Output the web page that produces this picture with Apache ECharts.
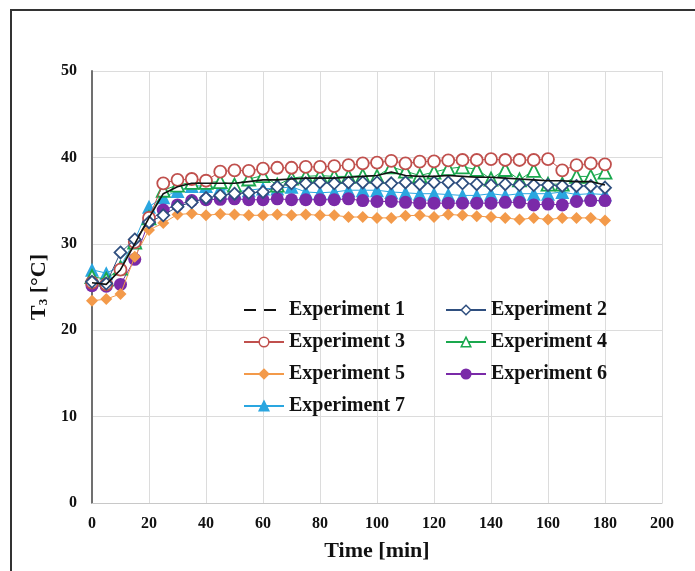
<!DOCTYPE html>
<html>
<head>
<meta charset="utf-8">
<script src="https://cdn.jsdelivr.net/npm/echarts@6/dist/echarts.min.js"></script>
<style>html,body{margin:0;padding:0;background:#fff}#c{width:695px;height:571px}</style>
</head>
<body>
<div id="c"></div>
<script>
var times = [0,5,10,15,20,25,30,35,40,45,50,55,60,65,70,75,80,85,90,95,100,105,110,115,120,125,130,135,140,145,150,155,160,165,170,175,180];
var xTicks = [0,20,40,60,80,100,120,140,160,180,200];
var yTicks = [0,10,20,30,40,50];
var names = ['Experiment 1','Experiment 2','Experiment 3','Experiment 4','Experiment 5','Experiment 6','Experiment 7'];
var exp1 = [25.5,25.3,27.0,30.0,33.0,35.8,36.6,37.0,37.0,37.0,37.0,37.2,37.4,37.4,37.5,37.6,37.6,37.6,37.7,37.8,37.9,38.3,37.9,37.8,37.8,37.9,37.8,37.7,37.7,37.6,37.5,37.4,37.3,37.3,37.2,37.2,36.8];
var exp2 = [25.6,25.4,29.0,30.5,32.5,33.3,34.3,34.8,35.3,35.6,35.8,35.9,36.0,36.6,37.0,37.0,37.1,37.0,37.1,37.1,37.1,37.0,37.1,36.9,37.1,37.1,37.0,36.9,36.8,36.9,36.8,36.8,36.8,36.7,36.7,36.7,36.5];
var exp3 = [25.5,25.3,27.0,30.2,33.0,37.0,37.4,37.5,37.3,38.35,38.5,38.45,38.7,38.8,38.8,38.9,38.9,39.0,39.1,39.3,39.4,39.6,39.3,39.5,39.55,39.65,39.7,39.7,39.8,39.7,39.7,39.7,39.8,38.5,39.1,39.3,39.2];
var exp4 = [26.2,25.9,27.2,30.2,33.0,36.2,36.8,37.1,37.1,37.2,36.8,37.5,37.9,36.8,37.6,37.8,37.9,37.8,37.8,37.9,37.8,38.9,38.4,37.9,38.3,38.7,38.9,38.6,37.5,38.6,37.4,38.5,36.9,36.9,37.8,37.8,38.3];
var exp5 = [23.4,23.6,24.2,28.5,31.6,32.4,33.4,33.5,33.3,33.45,33.4,33.3,33.3,33.4,33.3,33.4,33.3,33.3,33.1,33.1,33.0,33.0,33.25,33.3,33.1,33.4,33.3,33.2,33.1,33.0,32.8,33.0,32.8,33.0,33.0,33.0,32.7];
var exp6 = [25.15,25.1,25.3,28.2,32.6,33.9,34.5,35.0,35.1,35.15,35.2,35.1,35.1,35.2,35.1,35.1,35.1,35.1,35.2,35.0,34.9,34.9,34.8,34.7,34.7,34.7,34.7,34.7,34.7,34.8,34.8,34.5,34.6,34.5,34.9,35.0,35.0];
var exp7 = [27.0,26.6,27.4,30.4,34.3,35.4,36.1,36.7,36.7,36.4,36.0,36.2,36.4,36.4,36.6,36.0,35.9,36.0,36.2,36.2,36.2,36.0,35.9,35.8,35.8,35.7,35.6,35.6,35.8,35.6,35.8,35.8,35.8,36.0,35.7,35.8,35.7];

function pairs(v){ return times.map(function(t,i){ return [t, v[i]]; }); }

var FONT = '"Liberation Serif", "Times New Roman", serif';
var styles = [
  {color:'#111111', symbol:'none', size:0, fill:'#111111'},
  {color:'#2f4f7f', symbol:'diamond', size:12, fill:'#ffffff'},
  {color:'#c0504d', symbol:'circle', size:12, fill:'#ffffff'},
  {color:'#1aa84e', symbol:'triangle', size:13, fill:'#ffffff'},
  {color:'#f39a4a', symbol:'diamond', size:12, fill:'#f39a4a'},
  {color:'#7a2aa8', symbol:'circle', size:13, fill:'#7a2aa8'},
  {color:'#2aa6e0', symbol:'triangle', size:14, fill:'#2aa6e0'}
];
var vals = [exp1,exp2,exp3,exp4,exp5,exp6,exp7];
var series = vals.map(function(v,i){
  var s = styles[i];
  return {
    name: names[i], type:'line', data: pairs(v),
    symbol: s.symbol, symbolSize: s.size, showSymbol: s.symbol !== 'none',
    lineStyle: {color: s.color, width: i===0 ? 1.6 : 1},
    itemStyle: {color: s.fill, borderColor: s.color, borderWidth: (s.fill==='#ffffff') ? 1.8 : 0},
    z: 10 - i, animation:false
  };
});

var legendText = {fontFamily: FONT, fontWeight:'bold', fontSize:20, color:'#111', lineHeight:20};
function legendData(idx){
  return idx.map(function(i){
    var d = {name: names[i]};
    if(i===0){
      d.lineStyle = {type:[12,8], width:2, color:'#111'};
      d.itemStyle = {color:'rgba(0,0,0,0)', borderColor:'rgba(0,0,0,0)', borderWidth:0, opacity:0};
    }
    return d;
  });
}

var chart = echarts.init(document.getElementById('c'), null, {renderer:'canvas'});
chart.setOption({
  backgroundColor:'#ffffff',
  animation:false,
  graphic:[{type:'rect', shape:{x:11,y:10,width:720,height:620}, style:{fill:'none', stroke:'#333', lineWidth:2}, silent:true}],
  grid:{left:92, right:33, top:71, bottom:68},
  legend:[
    {data: legendData([0,2,4,6]), orient:'vertical', left:238, top:295, itemWidth:40, itemHeight:12, itemGap:12, textStyle:legendText, itemStyle:{borderWidth:1.5}},
    {data: legendData([1,3,5]), orient:'vertical', left:440, top:295, itemWidth:40, itemHeight:12, itemGap:12, textStyle:legendText, itemStyle:{borderWidth:1.5}}
  ],
  xAxis:{
    type:'value', min:xTicks[0], max:xTicks[xTicks.length-1], interval:xTicks[1]-xTicks[0],
    name:'Time [min]', nameLocation:'middle', nameGap:37,
    nameTextStyle:{fontFamily:FONT, fontWeight:'bold', fontSize:22, color:'#111'},
    axisLine:{show:true, lineStyle:{color:'#c8c8c8', width:1}},
    axisTick:{show:false},
    axisLabel:{fontFamily:FONT, fontWeight:'bold', fontSize:16, color:'#111', margin:13},
    splitLine:{show:true, lineStyle:{color:'#dcdcdc', width:1}}
  },
  yAxis:{
    type:'value', min:yTicks[0], max:yTicks[yTicks.length-1], interval:yTicks[1]-yTicks[0],
    name:'{a|T}{s|3}{a| [°C]}', nameLocation:'middle', nameGap:36, nameRotate:90,
    nameTextStyle:{rich:{
      a:{fontFamily:FONT, fontWeight:'bold', fontSize:22, color:'#111'},
      s:{fontFamily:FONT, fontWeight:'bold', fontSize:13, color:'#111', verticalAlign:'bottom', padding:[8,0,0,0]}
    }},
    axisLine:{show:true, lineStyle:{color:'#707070', width:2}},
    axisTick:{show:false},
    axisLabel:{fontFamily:FONT, fontWeight:'bold', fontSize:16, color:'#111', margin:15},
    splitLine:{show:true, lineStyle:{color:'#dcdcdc', width:1}}
  },
  series: series
});
</script>
</body>
</html>
